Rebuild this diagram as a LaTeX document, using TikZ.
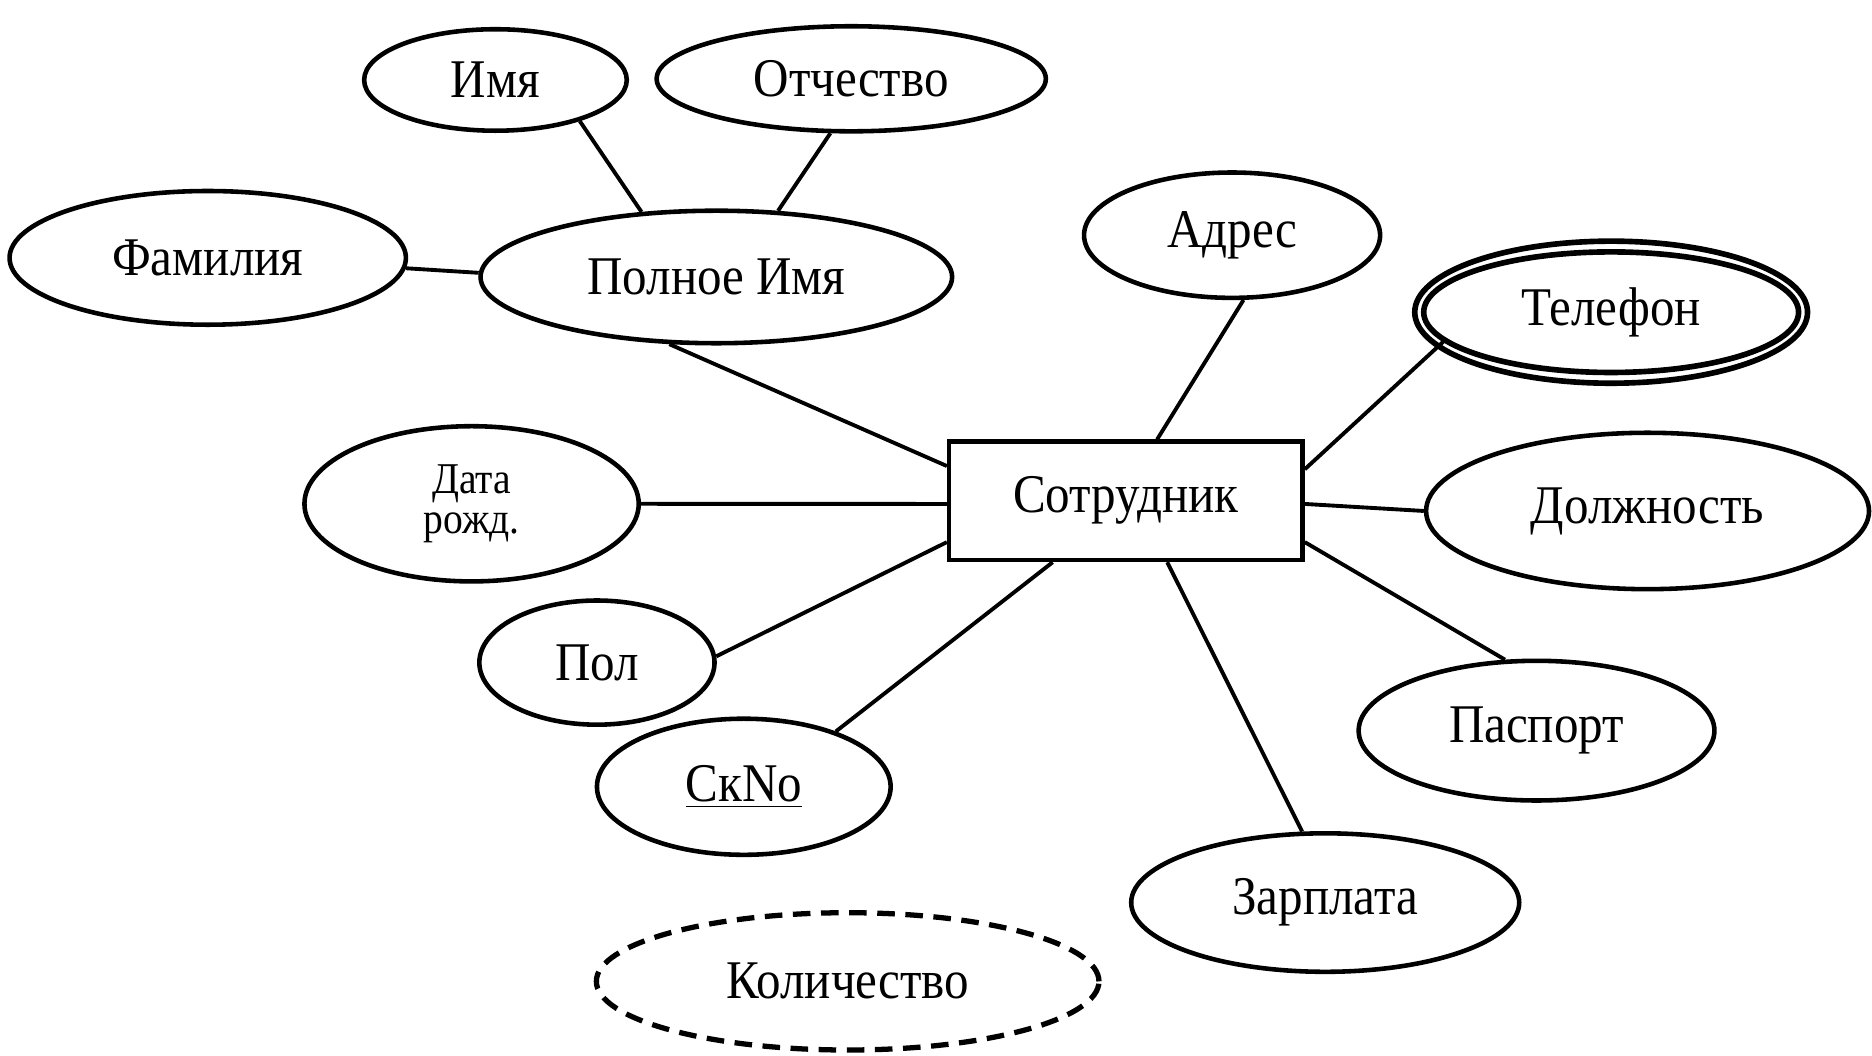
\documentclass[tikz,border=0pt]{standalone}
\usepackage{fontspec}
\setmainfont[FakeStretch=0.9]{Liberation Serif}
\usetikzlibrary{shapes.geometric}
\begin{document}
\begin{tikzpicture}[x=0.011939cm,y=-0.011939cm,
  attr/.style 2 args={ellipse,draw,line width=1.3pt,inner sep=0pt,
    minimum width=#1*0.011939cm,minimum height=#2*0.011939cm,
    font=\fontsize{15.5}{17}\selectfont},
  ent/.style={rectangle,draw,line width=1.3pt,inner sep=0pt,
    minimum width=296*0.011939cm,minimum height=99*0.011939cm,
    font=\fontsize{15.5}{17}\selectfont},
  link/.style={line width=1.1pt}]
\useasboundingbox (0,0) rectangle (1568,884);

\node[ent] (sotr) at (943,419.5) {Сотрудник};

\node[attr={220}{85}] (imya) at (415,67) {Имя};
\node[attr={326}{88}] (otch) at (713,66) {Отчество};
\node[attr={332}{112}] (fam) at (174,216) {Фамилия};
\node[attr={395}{111}] (poln) at (600,232) {Полное Имя};
\node[attr={248}{105}] (adr) at (1032,197) {\raisebox{-0.25em}{Адрес}};
\node[attr={329}{119},line width=1.6pt] (tel) at (1349.5,261.5) {\raisebox{-0.2em}{Телефон}};
\node[attr={314}{101},line width=1.6pt] (telin) at (1349.5,261.5) {};
\node[attr={280}{130},font=\fontsize{12.5}{11.6}\selectfont,align=center] (data) at (395,422) {Дата\\рожд.};
\node[attr={371}{131}] (dolzh) at (1380,428) {Должность};
\node[attr={197}{104}] (pol) at (500,555) {Пол};
\node[attr={246}{114}] (skno) at (623,659) {\underline{СкNo}};
\node[attr={298}{117}] (pasp) at (1287,612) {\raisebox{-0.15em}{Паспорт}};
\node[attr={325}{116}] (zarp) at (1110,756) {\raisebox{-0.15em}{Зарплата}};
\node[attr={421}{115},dash pattern=on 5pt off 3pt,line width=1.5pt] (kol) at (710,822) {Количество};

\draw[link] (imya.-26) -- (poln.139);
\draw[link] (otch.-111) -- (poln.47);
\draw[link] (fam.-3) -- (poln.179);
\draw[link] (poln.-125) -- (sotr.169.5);
\draw[link] (adr.-80) -- (sotr.63);
\draw[link] (telin.-170) -- (sotr.10.5);
\draw[link] (data.0) -- (sotr.181);
\draw[link] (dolzh.180) -- (sotr.-1);
\draw[link] (pol.3) -- (sotr.193.5);
\draw[link] (skno.31) -- (sotr.-140);
\draw[link] (pasp.114) -- (sotr.-13.5);
\draw[link] (zarp.108) -- (sotr.-56);
\end{tikzpicture}
\end{document}
